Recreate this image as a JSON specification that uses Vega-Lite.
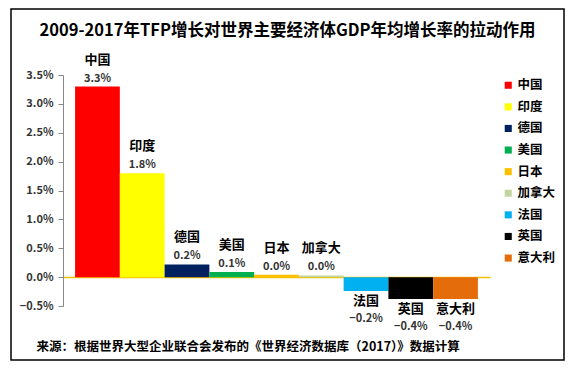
{
  "$schema": "https://vega.github.io/schema/vega-lite/v6.json",
  "width": 553,
  "height": 351,
  "autosize": "none",
  "padding": {"left": 11, "top": 9, "right": 10, "bottom": 12},
  "background": "white",
  "title": {
    "text": "2009-2017年TFP增长对世界主要经济体GDP年均增长率的拉动作用",
    "font": "Noto Sans CJK SC",
    "fontSize": 16.5,
    "fontWeight": "bold",
    "color": "#000000",
    "anchor": "middle",
    "offset": -30
  },
  "data": {
    "values": [
      {"country": "中国", "value": 0.033},
      {"country": "印度", "value": 0.018},
      {"country": "德国", "value": 0.0022},
      {"country": "美国", "value": 0.0009},
      {"country": "日本", "value": 0.0004},
      {"country": "加拿大", "value": 0.0003},
      {"country": "法国", "value": -0.0024},
      {"country": "英国", "value": -0.0038},
      {"country": "意大利", "value": -0.0038}
    ]
  },
  "encoding": {
    "x": {
      "field": "country",
      "type": "nominal",
      "sort": null,
      "scale": {"range": [52, 479], "paddingInner": 0, "paddingOuter": 0.27},
      "axis": {
        "offset": -83,
        "labels": false,
        "ticks": false,
        "domain": true,
        "domainColor": "#F2C200",
        "domainWidth": 1.5,
        "title": "来源：根据世界大型企业联合会发布的《世界经济数据库（2017）》数据计算",
        "titleFont": "Noto Sans CJK SC",
        "titleFontSize": 12.5,
        "titleFontWeight": "bold",
        "titleColor": "#000000",
        "titleX": 25,
        "titleY": 69,
        "titleAlign": "left",
        "titleBaseline": "middle",
        "titleAnchor": "start"
      }
    },
    "y": {
      "field": "value",
      "type": "quantitative",
      "scale": {"domain": [-0.005, 0.035], "range": [297, 66], "nice": false, "zero": false},
      "axis": {
        "offset": -52,
        "values": [-0.005, 0, 0.005, 0.01, 0.015, 0.02, 0.025, 0.03, 0.035],
        "format": ".1%",
        "grid": false,
        "title": null,
        "domainColor": "#888888",
        "tickColor": "#888888",
        "tickSize": 5,
        "labelPadding": 5,
        "labelFont": "Noto Sans CJK SC",
        "labelFontSize": 11,
        "labelFontWeight": "bold",
        "labelColor": "#333333"
      }
    }
  },
  "layer": [
    {
      "mark": {"type": "bar"},
      "encoding": {
        "color": {
          "field": "country",
          "type": "nominal",
          "scale": {
            "domain": ["中国", "印度", "德国", "美国", "日本", "加拿大", "法国", "英国", "意大利"],
            "range": ["#FF0000", "#FFFF00", "#002060", "#00B050", "#FFC000", "#C4D6A0", "#00B0F0", "#000000", "#E46C0A"]
          },
          "legend": {
            "title": null,
            "orient": "none",
            "legendX": 491,
            "legendY": 70,
            "padding": 0,
            "symbolType": "square",
            "symbolSize": 50,
            "symbolStrokeWidth": 0,
            "labelFont": "Noto Sans CJK SC",
            "labelFontSize": 12.5,
            "labelFontWeight": "bold",
            "labelColor": "#000000",
            "labelOffset": 3,
            "rowPadding": 8.6
          }
        }
      }
    },
    {
      "transform": [{"filter": "datum.value >= 0"}],
      "mark": {"type": "text", "baseline": "bottom", "dy": -20, "font": "Noto Sans CJK SC", "fontSize": 13, "fontWeight": "bold", "color": "#000000"},
      "encoding": {"text": {"field": "country"}}
    },
    {
      "transform": [{"filter": "datum.value >= 0"}],
      "mark": {"type": "text", "baseline": "bottom", "dy": -3, "font": "Noto Sans CJK SC", "fontSize": 11, "fontWeight": "bold", "color": "#333333"},
      "encoding": {"text": {"field": "value", "format": ".1%"}}
    },
    {
      "transform": [{"filter": "datum.value < 0"}],
      "mark": {"type": "text", "baseline": "top", "dy": 4, "font": "Noto Sans CJK SC", "fontSize": 13, "fontWeight": "bold", "color": "#000000"},
      "encoding": {"text": {"field": "country"}}
    },
    {
      "transform": [{"filter": "datum.value < 0"}],
      "mark": {"type": "text", "baseline": "top", "dy": 22, "font": "Noto Sans CJK SC", "fontSize": 11, "fontWeight": "bold", "color": "#333333"},
      "encoding": {"text": {"field": "value", "format": ".1%"}}
    }
  ],
  "config": {
    "view": {"stroke": "#000000", "strokeWidth": 1.5}
  }
}
